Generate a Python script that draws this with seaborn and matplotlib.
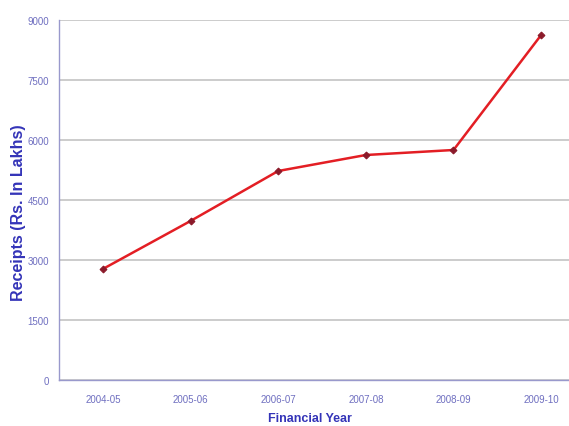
import matplotlib.pyplot as plt
import pandas as pd
import seaborn as sns

# values
years = ['2004-05', '2005-06', '2006-07', '2007-08', '2008-09', '2009-10']
receipts = [2775, 3975, 5225, 5625, 5750, 8625]
y_ticks = [0, 1500, 3000, 4500, 6000, 7500, 9000]

data = pd.DataFrame({'Year': years, 'Receipts': receipts})
data['pos'] = range(len(years))

sns.set_style('white')
plt.rcParams['font.family'] = ['Liberation Sans', 'DejaVu Sans']

fig = plt.figure(figsize=(5.69, 4.27), dpi=100)
# plot area runs past the right edge, as in the cropped reference
ax = fig.add_axes([59 / 569, 46 / 427, 526 / 569, 360 / 427])

sns.lineplot(data=data, x='pos', y='Receipts', ax=ax,
             color='#e31e24', linewidth=1.8,
             marker='D', markersize=3.5,
             markerfacecolor='#8b1a2a', markeredgecolor='#8b1a2a')

ax.set(xlim=(-0.5, len(years) - 0.5), ylim=(0, 9000))
ax.set_yticks(y_ticks)
ax.set_xticks([i + 0.5 for i in range(len(years) - 1)], minor=False)
ax.set_xticklabels([])
ax.set_xticks(range(len(years)), minor=True)
ax.set_xticklabels(years, minor=True)
ax.tick_params(axis='x', which='major', length=4, color='#9999cc', direction='out')
ax.tick_params(axis='x', which='minor', length=0, pad=10,
               labelsize=7, labelcolor='#6f6fc0')
ax.tick_params(axis='y', length=4, color='#9999cc', direction='out',
               labelsize=7, labelcolor='#6f6fc0', pad=3)

ax.yaxis.grid(True, color='#c4c4c4', linewidth=1.2)
ax.set_axisbelow(True)
for side in ['top', 'right']:
    ax.spines[side].set_visible(False)
for side in ['left', 'bottom']:
    ax.spines[side].set_color('#9999cc')
    ax.spines[side].set_linewidth(1.0)

ax.set_xlabel('Financial Year', fontsize=9, fontweight='bold',
              color='#3434b8')
ax.set_ylabel('Receipts (Rs. In Lakhs)', fontsize=11.5, fontweight='bold',
              color='#3434b8')
ax.xaxis.set_label_coords((310 - 59) / 526, -32 / 360)
ax.yaxis.set_label_coords((19 - 59) / 526, (381 - 213) / 360)
ax.yaxis.label.set_va('center')

fig.savefig('out.png', dpi=100)
